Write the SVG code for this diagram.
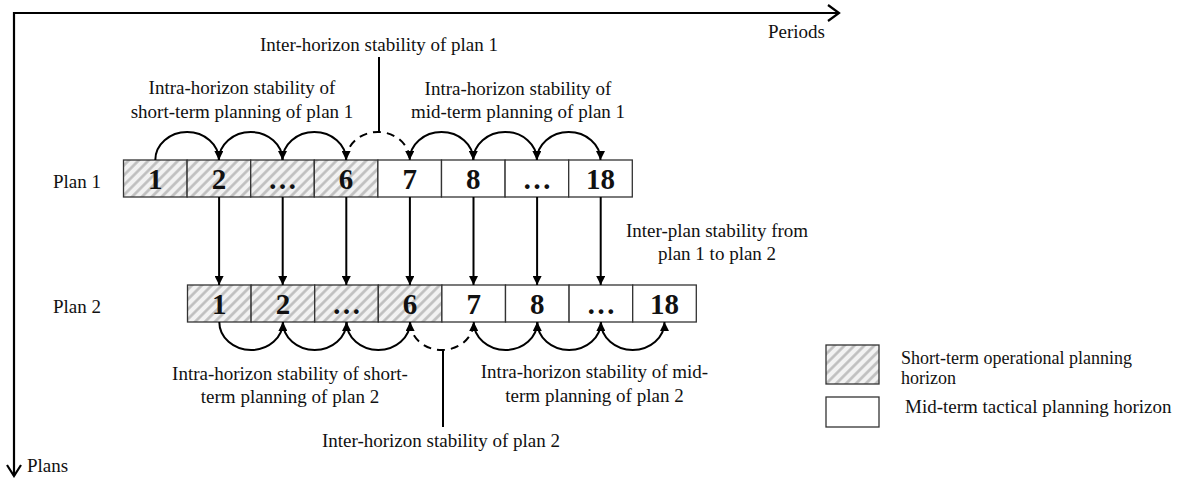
<svg xmlns="http://www.w3.org/2000/svg" width="1179" height="478" viewBox="0 0 1179 478">
<style>
text{font-family:"Liberation Serif","Times New Roman",serif;fill:#111}
.lbl{font-size:19px}
.sm{font-size:18px}
.num{font-size:29px;font-weight:bold;text-anchor:middle}
.c{text-anchor:middle}
.cell{stroke:#333;stroke-width:1.3}
.hat{fill:url(#hatch)}
.wht{fill:#fff}
.con{fill:none;stroke:#000;stroke-width:2;marker-end:url(#ah)}
.dash{stroke-dasharray:8 6}
.ln{fill:none;stroke:#000;stroke-width:2}
.ax{fill:none;stroke:#000;stroke-width:2.2}
</style>
<defs>
<pattern id="hatch" patternUnits="userSpaceOnUse" width="7" height="7" patternTransform="rotate(45)">
<rect width="7" height="7" fill="#f2f2f2"/>
<line x1="1.5" y1="0" x2="1.5" y2="7" stroke="#bdbdbd" stroke-width="2.6"/>
</pattern>
<marker id="ah" viewBox="0 0 10 10" refX="10" refY="5" markerUnits="userSpaceOnUse" markerWidth="10" markerHeight="9" orient="auto">
<path d="M0,0 L10,5 L0,10 z" fill="#000"/>
</marker>
</defs>
<rect width="1179" height="478" fill="#fff"/>

<g id="axes">
<path class="ax" d="M14,476 L14,13 L839,13"/>
<polyline class="ax" points="828,5 839,13 828,21"/>
<polyline class="ax" points="7,465 14,476 21,465"/>
<text class="lbl" x="768" y="38">Periods</text>
<text class="lbl" x="27" y="472">Plans</text>
</g>

<g id="plan1">
<text class="lbl" x="53" y="188">Plan 1</text>
<rect class="cell hat" x="123.5" y="160" width="63.6" height="37"/>
<rect class="cell hat" x="187.1" y="160" width="63.6" height="37"/>
<rect class="cell hat" x="250.7" y="160" width="63.6" height="37"/>
<rect class="cell hat" x="314.3" y="160" width="63.6" height="37"/>
<rect class="cell wht" x="377.9" y="160" width="63.6" height="37"/>
<rect class="cell wht" x="441.5" y="160" width="63.6" height="37"/>
<rect class="cell wht" x="505.1" y="160" width="63.6" height="37"/>
<rect class="cell wht" x="568.7" y="160" width="63.6" height="37"/>
<text class="num" x="155.3" y="189">1</text>
<text class="num" x="218.9" y="189">2</text>
<text class="num" x="282.5" y="189">…</text>
<text class="num" x="346.1" y="189">6</text>
<text class="num" x="409.7" y="189">7</text>
<text class="num" x="473.3" y="189">8</text>
<text class="num" x="536.9" y="189">…</text>
<text class="num" x="600.5" y="189">18</text>
</g>

<g id="plan2">
<text class="lbl" x="53" y="313">Plan 2</text>
<rect class="cell hat" x="187.5" y="285" width="63.6" height="37"/>
<rect class="cell hat" x="251.1" y="285" width="63.6" height="37"/>
<rect class="cell hat" x="314.7" y="285" width="63.6" height="37"/>
<rect class="cell hat" x="378.3" y="285" width="63.6" height="37"/>
<rect class="cell wht" x="441.9" y="285" width="63.6" height="37"/>
<rect class="cell wht" x="505.5" y="285" width="63.6" height="37"/>
<rect class="cell wht" x="569.1" y="285" width="63.6" height="37"/>
<rect class="cell wht" x="632.7" y="285" width="63.6" height="37"/>
<text class="num" x="219.3" y="314">1</text>
<text class="num" x="282.9" y="314">2</text>
<text class="num" x="346.5" y="314">…</text>
<text class="num" x="410.1" y="314">6</text>
<text class="num" x="473.7" y="314">7</text>
<text class="num" x="537.3" y="314">8</text>
<text class="num" x="600.9" y="314">…</text>
<text class="num" x="664.5" y="314">18</text>
</g>

<g id="connectors">
<path class="con" d="M155.3,160 A31.8 28 0 0 1 218.9,160"/>
<path class="con" d="M218.9,160 A31.8 28 0 0 1 282.5,160"/>
<path class="con" d="M282.5,160 A31.8 28 0 0 1 346.1,160"/>
<path class="con dash" d="M346.1,160 A31.8 28 0 0 1 409.7,160"/>
<path class="con" d="M409.7,160 A31.8 28 0 0 1 473.3,160"/>
<path class="con" d="M473.3,160 A31.8 28 0 0 1 536.9,160"/>
<path class="con" d="M536.9,160 A31.8 28 0 0 1 600.5,160"/>
<line class="ln" x1="379" y1="57" x2="379" y2="133"/>

<line class="con" x1="219.1" y1="197" x2="219.1" y2="285"/>
<line class="con" x1="282.7" y1="197" x2="282.7" y2="285"/>
<line class="con" x1="346.3" y1="197" x2="346.3" y2="285"/>
<line class="con" x1="409.9" y1="197" x2="409.9" y2="285"/>
<line class="con" x1="473.5" y1="197" x2="473.5" y2="285"/>
<line class="con" x1="537.1" y1="197" x2="537.1" y2="285"/>
<line class="con" x1="600.7" y1="197" x2="600.7" y2="285"/>

<path class="con" d="M219.3,322 A31.8 28 0 0 0 282.9,322"/>
<path class="con" d="M282.9,322 A31.8 28 0 0 0 346.5,322"/>
<path class="con" d="M346.5,322 A31.8 28 0 0 0 410.1,322"/>
<path class="con dash" d="M410.1,322 A31.8 28 0 0 0 473.7,322"/>
<path class="con" d="M473.7,322 A31.8 28 0 0 0 537.3,322"/>
<path class="con" d="M537.3,322 A31.8 28 0 0 0 600.9,322"/>
<path class="con" d="M600.9,322 A31.8 28 0 0 0 664.5,322"/>
<line class="ln" x1="443" y1="350" x2="443" y2="427"/>
</g>

<g id="labels">
<text class="lbl c" x="379" y="51">Inter-horizon stability of plan 1</text>
<text class="lbl c" x="242" y="94">Intra-horizon stability of</text>
<text class="lbl c" x="242" y="118">short-term planning of plan 1</text>
<text class="lbl c" x="518" y="95">Intra-horizon stability of</text>
<text class="lbl c" x="518" y="118">mid-term planning of plan 1</text>
<text class="lbl c" x="717" y="237">Inter-plan stability from</text>
<text class="lbl c" x="717" y="260">plan 1 to plan 2</text>
<text class="lbl c" x="290" y="380">Intra-horizon stability of short-</text>
<text class="lbl c" x="290" y="403">term planning of plan 2</text>
<text class="lbl c" x="594.5" y="378">Intra-horizon stability of mid-</text>
<text class="lbl c" x="594.5" y="402">term planning of plan 2</text>
<text class="lbl c" x="441" y="447">Inter-horizon stability of plan 2</text>
</g>

<g id="legend">
<rect class="cell hat" x="826" y="345" width="53" height="39"/>
<rect class="cell wht" x="826" y="397" width="53" height="30"/>
<text class="lbl sm" x="901" y="364">Short-term operational planning</text>
<text class="lbl sm" x="901" y="384">horizon</text>
<text class="lbl" x="905" y="413">Mid-term tactical planning horizon</text>
</g>
</svg>
